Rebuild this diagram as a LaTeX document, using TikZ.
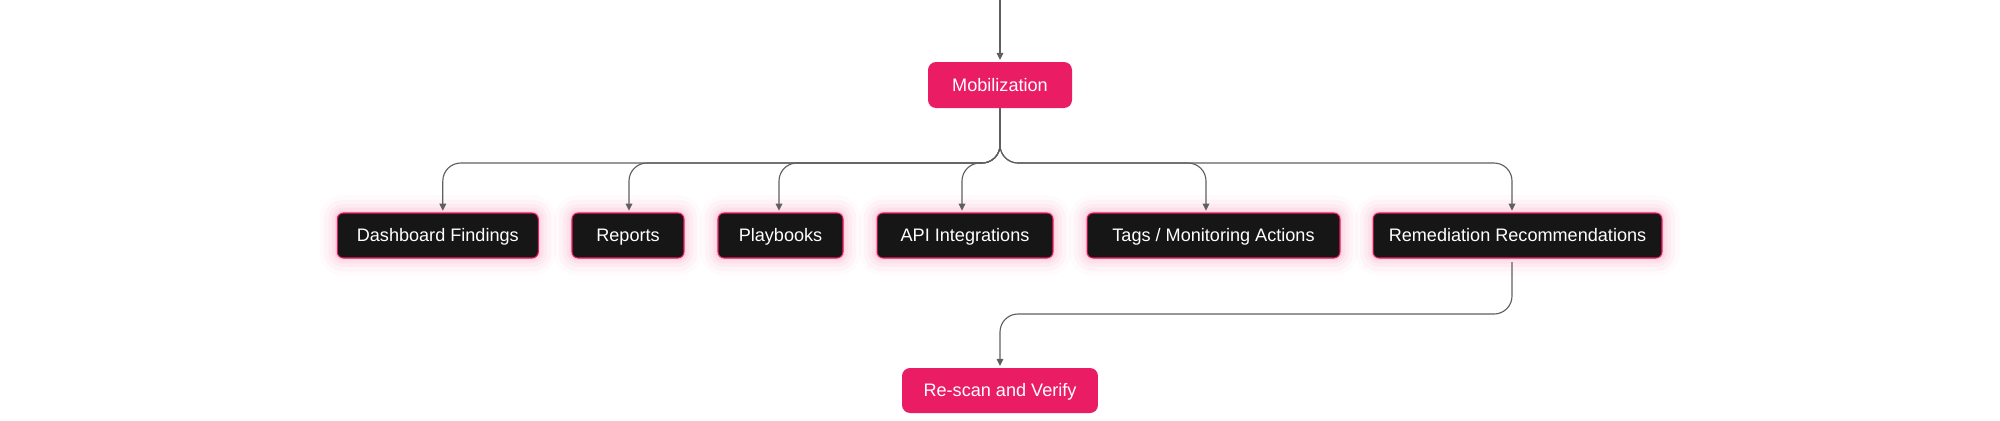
\documentclass[tikz,border=0pt]{standalone}
\usepackage{fontspec}
\setmainfont{Liberation Sans}
\usetikzlibrary{positioning,arrows.meta}
\definecolor{FlowPink}{RGB}{234,28,99}
\definecolor{CardBlack}{RGB}{22,22,22}
\definecolor{WireGray}{RGB}{95,95,95}
\tikzset{
  stage/.style={rectangle,rounded corners=0.16cm,fill=FlowPink,text=white,
    minimum height=0.92cm,inner sep=0pt,text height=0.9em,text depth=0.18em,
    font=\fontsize{10.3}{12}\selectfont},
  output/.style={rectangle,rounded corners=0.12cm,fill=CardBlack,draw=FlowPink,
    line width=0.6pt,text=white,minimum height=0.9cm,inner sep=0pt,
    text height=0.9em,text depth=0.18em,font=\fontsize{10.3}{12}\selectfont,
    preaction={draw=FlowPink,line width=20pt,opacity=0.025},
    preaction={draw=FlowPink,line width=15pt,opacity=0.03},
    preaction={draw=FlowPink,line width=10pt,opacity=0.04},
    preaction={draw=FlowPink,line width=6pt,opacity=0.05},
    preaction={draw=FlowPink,line width=2.5pt,opacity=0.07}},
  link/.style={draw=WireGray,line width=0.65pt,rounded corners=0.36cm,
    -{Triangle[length=4pt,width=3.8pt]},shorten >=1pt},
}

\begin{document}
\begin{tikzpicture}[x=0.02cm,y=-0.02cm]
\useasboundingbox (0,0) rectangle (2000,420);
\coordinate (top) at (1000,0);
\coordinate (bus) at (1000,163);
\coordinate (drop) at (1000,314);
\node[stage,minimum width=2.88cm] (mob) at (1000,85) {Mobilization};
\node[output,minimum width=4.02cm] (dash) at (437.8,235.5) {Dashboard Findings};
\node[output,minimum width=2.24cm] (rep) at (628,235.5) {Reports};
\node[output,minimum width=2.5cm] (play) at (780.5,235.5) {Playbooks};
\node[output,minimum width=3.52cm] (api) at (965,235.5) {API Integrations};
\node[output,minimum width=5.06cm] (tags) at (1213.5,235.5) {Tags / Monitoring Actions};
\node[output,minimum width=5.78cm] (rem) at (1517.5,235.5) {Remediation Recommendations};
\node[stage,minimum width=3.92cm,minimum height=0.9cm] (scan) at (1000,390.5) {Re-scan and Verify};
% fan out from mobilization
\draw[link] (top) -- (mob.north);
\foreach \n/\dx in {dash/0.1,rep/0.02,play/-0.03,api/-0.06,tags/-0.15,rem/-0.11}
  \draw[link] (mob.south) -- (bus) -| ([xshift=\dx cm]\n.north);
\draw[link,shorten <=2pt] ([xshift=-0.11cm]rem.south) |- (drop) -- (scan.north);
\end{tikzpicture}
\end{document}
